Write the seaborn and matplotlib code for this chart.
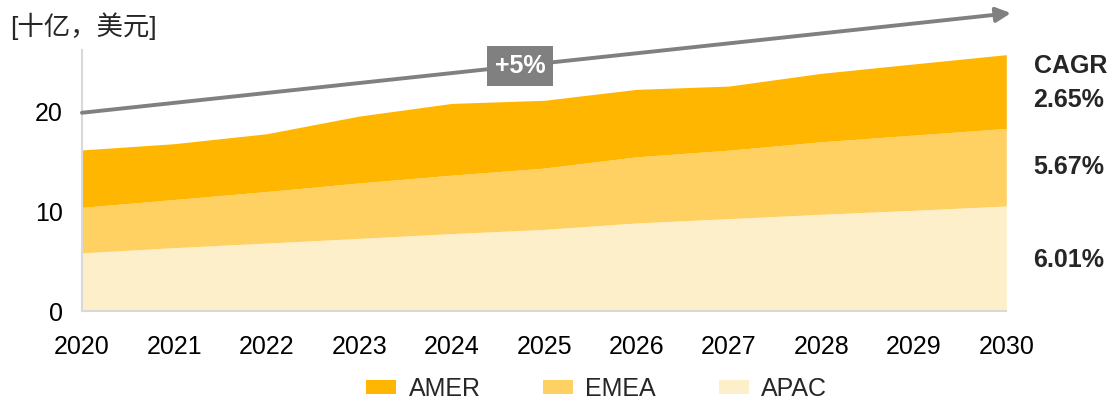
import numpy as np
import pandas as pd
import seaborn as sns
import matplotlib
matplotlib.use('Agg')
import matplotlib.pyplot as plt
from matplotlib.patches import Patch

# values, in billions USD
years = [2020, 2021, 2022, 2023, 2024, 2025, 2026, 2027, 2028, 2029, 2030]
apac = [5.85, 6.37, 6.83, 7.3, 7.78, 8.2, 8.85, 9.28, 9.72, 10.12, 10.55]
emea = [4.56, 4.83, 5.17, 5.56, 5.86, 6.15, 6.63, 6.87, 7.27, 7.54, 7.78]
amer = [5.76, 5.6, 5.8, 6.71, 7.2, 6.8, 6.77, 6.43, 6.87, 7.14, 7.4]
regions = ["AMER", "EMEA", "APAC"]
cagr = ["2.65%", "5.67%", "6.01%"]
colors = {"AMER": "#FFB600", "EMEA": "#FFD062", "APAC": "#FEEFCB"}

df = pd.DataFrame({"year": years, "APAC": apac, "EMEA": emea, "AMER": amer})

sns.set_theme(style="white")
plt.rcParams['font.family'] = ['Liberation Sans', 'Noto Sans CJK SC', 'DejaVu Sans']

fig = plt.figure(figsize=(11.15, 4.03), dpi=100)
ax = fig.add_axes([0.0735, 0.228, 0.829, 0.648])

ax.stackplot(df["year"], df["APAC"], df["EMEA"], df["AMER"],
             colors=[colors["APAC"], colors["EMEA"], colors["AMER"]], linewidth=0)

ax.set_xlim(2020, 2030)
ax.set_ylim(0, 26.2)
ax.set_yticks([0, 10, 20])
ax.set_xticks(years)
ax.tick_params(axis='both', length=0, labelsize=18, colors='black')
ax.tick_params(axis='x', pad=17)
ax.tick_params(axis='y', pad=14)
sns.despine(ax=ax)
for s in ["left", "bottom"]:
    ax.spines[s].set_color("#d9d9d9")
    ax.spines[s].set_linewidth(1.5)

# growth arrow
ax.annotate("", xy=(2030.05, 29.9), xytext=(2020, 19.9),
            arrowprops=dict(arrowstyle="-|>", color="#808080", lw=2.8,
                            mutation_scale=22, shrinkA=0, shrinkB=0),
            annotation_clip=False, zorder=5)
ax.text(2024.74, 24.6, "+5%", ha="center", va="center", color="white",
        fontsize=18, fontweight="bold", zorder=6,
        bbox=dict(boxstyle="square,pad=0.32", fc="#808080", ec="none"))

# unit label
fig.text(0.009, 0.935, "[十亿，美元]", fontsize=19, ha="left", va="center")

# CAGR labels
fig.text(0.927, 0.836, "CAGR", fontsize=18, fontweight="bold", ha="left", va="center")
fig.text(0.927, 0.752, cagr[0], fontsize=18, fontweight="bold", ha="left", va="center")
fig.text(0.927, 0.585, cagr[1], fontsize=18, fontweight="bold", ha="left", va="center")
fig.text(0.927, 0.355, cagr[2], fontsize=18, fontweight="bold", ha="left", va="center")

handles = [Patch(facecolor=colors[r], edgecolor="none", label=r) for r in regions]
fig.legend(handles=handles, loc="center", bbox_to_anchor=(0.535, 0.035), ncol=3,
           frameon=False, fontsize=18, handlelength=1.2, handleheight=0.45,
           columnspacing=2.5, handletextpad=0.5)

plt.savefig("out.png", dpi=100)
